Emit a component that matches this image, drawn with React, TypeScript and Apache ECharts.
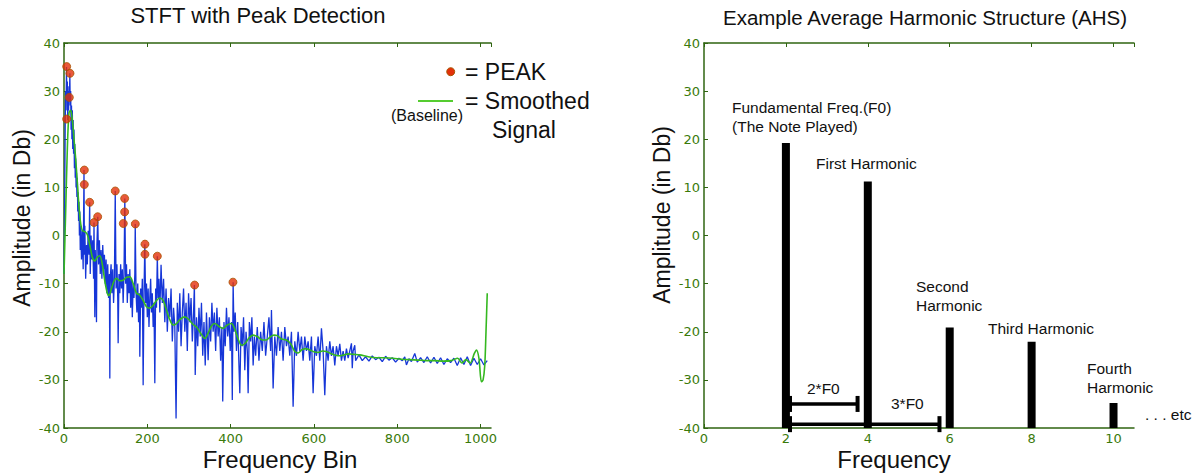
import React, { useEffect, useRef } from "react";
import * as echarts from "echarts";

// ---------- Left chart data ----------
const spectrum: [number, number][] = [
  [0, -8], [1, 0], [2, 12], [3, 24], [4, 30], [5, 26], [6, 35], [7, 28], [8, 32], [9, 24], [10, 30], [11, 26], [12, 31], [13, 28], [14, 33.7], [15, 27], [16, 30], [17, 22], [18, 27], [19, 20], [20, 26], [21, 18], [22, 24], [23, 17], [24, 22], [25, 14], [26, 19], [27, 12], [28, 16], [29, 10], [30, 13], [31, 8], [32, 12], [33, 5], [34, 9], [35, 3], [36, 7], [37, 0], [38, 5], [39, -3], [40, 2],
  [42, -5], [44, 1], [46, -7], [48, 13.6], [49, -4], [50, 2], [52, -9], [54, -2], [56, -6], [58, 1], [60, -4], [61.6, 6.9], [63, -8], [65, 0], [67, -5], [69, -1], [71, -9], [72, 2.7], [74, -17], [75, -3], [77, -10], [78, -18], [79, -2], [81, 3.9], [83, -6], [85, -1], [87, -8], [89, -3], [91, -9], [93, -2], [95, -7], [97, -4], [99, -10], [101, -5], [103, -12], [105, -6], [107, -13], [109, -8], [110, -29.7], [111, -9], [113, -6], [115, -12], [117, -7], [119, -14], [121, -9], [123, 9.25], [125, -11], [127, -6], [129, -13], [130, -22.4], [132, -8], [134, -12], [136, -6], [138, -11], [140, -7], [142, -14], [144, -8], [146, 7.7], [148, -10], [150, -6], [152, -14], [154, -8], [156, -12], [158, -7], [160, -15], [162, -9], [164, -17], [166, -10], [168, -13], [170, -8], [171, 2.4], [173, -12], [175, -16], [177, -10], [179, -18], [181, -12], [182, -25.2], [184, -11], [186, -15], [188, -9], [190, -31.1], [192, -12], [194, -1.8], [196, -14], [198, -10], [200, -17], [202, -11], [204, -19], [206, -13], [208, -9], [210, -16], [212, -12], [214, -19], [216, -14], [218, -30.7], [220, -11], [222, -15], [224, -4.3], [226, -13], [228, -9], [230, -16],
  [233, -6.1], [236, -14], [239, -9], [242, -18], [245, -11], [248, -20], [251, -13], [254, -17], [257, -11], [260, -22], [263, -15], [266, -19], [269, -38], [272, -14], [275, -20], [278, -12], [281, -23], [284, -16], [287, -11], [290, -20], [293, -14], [296, -24], [299, -12], [302, -18], [305, -13], [308, -22], [311, -16], [313, -10.3], [315, -29], [318, -17], [321, -23], [324, -15], [327, -21], [330, -14], [333, -25], [336, -18], [339, -27], [342, -16], [346, -25.9], [349, -17], [352, -22], [355, -14], [358, -20], [361, -16], [364, -24], [367, -15], [370, -21], [373, -17], [376, -26], [379, -19], [381, -34.5], [384, -18], [387, -23], [390, -15], [393, -21], [396, -17], [399, -24], [402, -18], [404, -34.2], [406, -9.7], [408, -20], [411, -16], [414, -24], [417, -18], [420, -27], [422, -32.8], [425, -19], [428, -23], [431, -17], [434, -28], [437, -20], [440, -24], [442, -32.8], [445, -18], [448, -22], [451, -17], [454, -27], [457, -21], [460, -25],
  [464, -19], [468, -26], [472, -20], [476, -24], [480, -18], [484, -25], [488, -21], [492, -17], [496, -24], [498, -15.5], [502, -31.8], [506, -21], [510, -25], [514, -19], [518, -24], [522, -20], [526, -26], [530, -19], [534, -23], [538, -21], [542, -25], [546, -20], [550, -35.6], [554, -22], [558, -25], [562, -20], [566, -24], [570, -21], [574, -26], [578, -21], [582, -24], [586, -22], [590, -26], [594, -21], [598, -32.8], [602, -23], [606, -25], [610, -21], [614, -26], [618, -19.3], [622, -24], [626, -33.2], [630, -23], [634, -26], [638, -22], [642, -25], [646, -23], [650, -27], [654, -23], [658, -25], [662, -22.5], [666, -26], [670, -24], [674, -26], [678, -23.5], [682, -25.5], [686, -24], [690, -22.4], [692, -27.6], [694, -24], [698, -22.8], [700, -26],
  [708, -24.8], [716, -26], [724, -25.2], [732, -26.1], [740, -25], [748, -25.8], [756, -25.3], [764, -26.2], [772, -25.1], [780, -25.9], [788, -25.4], [796, -26.3], [804, -25.5], [812, -26], [818, -25.2], [822, -26.9], [828, -25.6], [834, -26.2], [842, -24.5], [848, -26.3], [856, -25.4], [864, -26.4], [872, -25.2], [880, -26.5], [888, -25.3], [896, -26.6], [904, -25.4], [912, -26.8], [920, -25.6], [928, -26.4], [936, -25.5], [944, -27], [952, -25.4], [960, -26.8], [968, -25.2], [976, -27], [984, -25.5], [992, -26.8], [1000, -25.6], [1008, -26.9], [1016, -26],
];

const baseline: [number, number][] = [
  [0, -8], [4, 5], [8, 18], [12, 25.5], [16, 26], [20, 24], [24, 20], [28, 16], [32, 11], [36, 6], [40, 2.5], [44, 1], [50, 0.8], [56, 0.2], [62, -2], [68, -4.5], [74, -5.3], [80, -4.5], [86, -4.2], [92, -6], [98, -9.5], [104, -12], [108, -12.5], [114, -11], [120, -9.5], [126, -8.9], [134, -9.4], [142, -9.3], [150, -8.7], [158, -8.6], [166, -10], [174, -12], [182, -12.4], [190, -13.5], [198, -14.8], [206, -15.1], [214, -14.5], [222, -13.5], [230, -13], [238, -13.5], [246, -15.5], [254, -17.5], [262, -18.6], [270, -18.3], [280, -17.3], [290, -16.9], [300, -17.5], [310, -18.5], [318, -19], [328, -20.3], [338, -21.4], [346, -20.3], [354, -18.8], [362, -18.3], [372, -18.9], [382, -19.3], [392, -18.6], [402, -18.3], [410, -19.5], [418, -21.5], [426, -22.8], [434, -22.5], [444, -21.3], [454, -20.7], [464, -21], [476, -21.7], [486, -21.7], [496, -21], [504, -20.7], [512, -20.8], [522, -21.5], [534, -21.7], [544, -22.5], [554, -24.1], [562, -24.4], [570, -23.8], [580, -23.5], [590, -23.8], [598, -24.1], [610, -24.3], [620, -24], [630, -24.1], [640, -24.5], [652, -24.9], [662, -25], [672, -24.8], [684, -24.6], [696, -24.7], [710, -24.8], [730, -25.2], [750, -25.4], [770, -25.4], [790, -25.5], [810, -25.7], [830, -25.8], [850, -25.9], [870, -26], [890, -26], [910, -26.1], [930, -26], [945, -25.5], [955, -26.5], [965, -25.8], [975, -26.5], [985, -24.5], [990, -23.8], [996, -25.5], [1002, -30.4], [1006, -30], [1010, -27], [1013, -20], [1016, -12],
];

const peaks: [number, number][] = [
  [6.4, 35.1], [14.4, 33.7], [12.8, 28.7], [6.4, 24.2], [48.8, 13.6], [48.8, 10.6], [61.6, 6.9], [80.8, 3.9], [72, 2.7], [123, 9.25], [145.6, 7.7], [145.6, 4.9], [142.4, 2.5], [171.2, 2.4], [194.4, -1.8], [194.4, -3.9], [224, -4.3], [313.6, -10.3], [405.6, -9.7],
];

// ---------- Right chart data ----------
const harmonicFreqs = [2, 4, 6, 8, 10];
const harmonicDb = [19.2, 11.2, -19.1, -22.1, -34.8];
const spans: [number, number, number][] = [
  [2.1, 3.75, -35],
  [2.1, 5.75, -39.2],
];

const Y_MIN = -40;
const Y_MAX = 40;

const GREEN_AXIS = "#2f6410";
const GREEN_LABEL = "#3a7a0a";
const SANS = "Liberation Sans, Arial, sans-serif";
const PEAK_FILL = "#e3300a";
const PEAK_EDGE = "#a85400";

function bottomAxis(grid: number, max: number, interval: number) {
  return {
    type: "value",
    gridIndex: grid,
    min: 0,
    max,
    interval,
    position: "bottom",
    axisLine: { show: true, onZero: false, lineStyle: { color: GREEN_AXIS, width: 1.5 } },
    axisTick: { show: true, inside: true, length: 4, lineStyle: { color: GREEN_AXIS } },
    axisLabel: {
      show: true,
      color: GREEN_LABEL,
      fontFamily: "DejaVu Sans",
      fontSize: 13,
      margin: 4,
      showMaxLabel: false,
      formatter: (v: number) => (Math.abs(v / interval - Math.round(v / interval)) < 1e-6 ? String(v) : ""),
    },
    splitLine: { show: false },
  };
}

function topAxis(grid: number, max: number, interval: number) {
  return {
    type: "value",
    gridIndex: grid,
    min: 0,
    max,
    interval,
    position: "top",
    axisLine: { show: true, onZero: false, lineStyle: { color: GREEN_AXIS, width: 1.5 } },
    axisTick: { show: true, inside: true, length: 4, lineStyle: { color: GREEN_AXIS } },
    axisLabel: { show: false },
    splitLine: { show: false },
  };
}

function leftAxis(grid: number) {
  return {
    type: "value",
    gridIndex: grid,
    min: Y_MIN,
    max: Y_MAX,
    interval: 10,
    axisLine: { show: true, onZero: false, lineStyle: { color: GREEN_AXIS, width: 1.5 } },
    axisTick: { show: true, inside: true, length: 4, lineStyle: { color: GREEN_AXIS } },
    axisLabel: { color: GREEN_LABEL, fontFamily: "DejaVu Sans", fontSize: 13, margin: 4 },
    splitLine: { show: false },
  };
}

function txt(text: string, x: number, y: number, size: number, align = "left", rotation = 0) {
  return {
    type: "text",
    x,
    y,
    rotation,
    style: {
      text,
      fill: "#111",
      font: `${size}px ${SANS}`,
      textAlign: align,
      textVerticalAlign: "middle",
      verticalAlign: "middle",
    },
  };
}

export default function App() {
  const ref = useRef<HTMLDivElement>(null);

  useEffect(() => {
    if (!ref.current) return;
    const chart = echarts.init(ref.current, null, { renderer: "svg" });

    const option: any = {
      animation: false,
      backgroundColor: "#ffffff",
      grid: [
        { left: 64, top: 43, width: 427, height: 385 },
        { left: 704, top: 43, width: 430, height: 385 },
      ],
      xAxis: [
        bottomAxis(0, 1025, 200),
        topAxis(0, 1025, 200),
        bottomAxis(1, 10.5, 2),
        topAxis(1, 10.5, 2),
      ],
      yAxis: [leftAxis(0), leftAxis(1)],
      series: [
        {
          type: "line",
          xAxisIndex: 0,
          yAxisIndex: 0,
          data: spectrum,
          symbol: "none",
          lineStyle: { color: "#1636d8", width: 1.3 },
          z: 2,
        },
        {
          type: "line",
          xAxisIndex: 0,
          yAxisIndex: 0,
          data: baseline,
          symbol: "none",
          smooth: 0.3,
          lineStyle: { color: "#35b820", width: 1.6 },
          z: 3,
        },
        {
          type: "scatter",
          xAxisIndex: 0,
          yAxisIndex: 0,
          data: peaks,
          symbolSize: 8,
          itemStyle: { color: PEAK_FILL, borderColor: PEAK_EDGE, borderWidth: 1 },
          z: 4,
        },
        {
          type: "custom",
          xAxisIndex: 2,
          yAxisIndex: 1,
          data: harmonicFreqs.map((f, i) => [f, harmonicDb[i]]),
          encode: { x: 0, y: 1 },
          renderItem: (params: any, api: any) => {
            const top = api.coord([api.value(0), api.value(1)]);
            const bot = api.coord([api.value(0), Y_MIN]);
            return {
              type: "rect",
              shape: { x: top[0] - 4, y: top[1], width: 8, height: bot[1] - top[1] },
              style: { fill: "#000" },
            };
          },
          z: 3,
        },
        {
          type: "custom",
          xAxisIndex: 2,
          yAxisIndex: 1,
          data: spans,
          encode: { x: [0, 1], y: 2 },
          renderItem: (params: any, api: any) => {
            const a = api.coord([api.value(0), api.value(2)]);
            const b = api.coord([api.value(1), api.value(2)]);
            const st = { stroke: "#000", lineWidth: 3.5 };
            return {
              type: "group",
              children: [
                { type: "line", shape: { x1: a[0], y1: a[1], x2: b[0], y2: b[1] }, style: st },
                { type: "line", shape: { x1: a[0], y1: a[1] - 8, x2: a[0], y2: a[1] + 8 }, style: { stroke: "#000", lineWidth: 4 } },
                { type: "line", shape: { x1: b[0], y1: b[1] - 8, x2: b[0], y2: b[1] + 8 }, style: { stroke: "#000", lineWidth: 4 } },
              ],
            };
          },
          z: 4,
        },
      ],
      graphic: [
        txt("STFT with Peak Detection", 258, 15, 22, "center"),
        txt("Example Average Harmonic Structure (AHS)", 925, 17, 20.5, "center"),
        txt("Amplitude (in Db)", 22, 218, 23, "center", Math.PI / 2),
        txt("Amplitude (in Db)", 662, 215, 23, "center", Math.PI / 2),
        txt("Frequency Bin", 280, 459, 24, "center"),
        txt("Frequency", 894, 459, 24, "center"),
        // legend
        { type: "circle", shape: { cx: 450.7, cy: 71.7, r: 4 }, style: { fill: PEAK_FILL, stroke: PEAK_EDGE, lineWidth: 1 } },
        txt("= PEAK", 465, 72, 23),
        { type: "line", shape: { x1: 418, y1: 101, x2: 453, y2: 101 }, style: { stroke: "#55cc30", lineWidth: 2 } },
        txt("= Smoothed", 465, 101, 23),
        txt("Signal", 492, 130, 23),
        txt("(Baseline)", 391, 115, 16),
        // annotations on right chart
        txt("Fundamental Freq.(F0)", 732, 107, 15.5),
        txt("(The Note Played)", 732, 126, 15.5),
        txt("First Harmonic", 816, 163, 15.5),
        txt("Second", 916, 286, 15.5),
        txt("Harmonic", 916, 305, 15.5),
        txt("Third Harmonic", 988, 328, 15.5),
        txt("Fourth", 1087, 368, 15.5),
        txt("Harmonic", 1087, 387, 15.5),
        txt(". . . etc", 1145, 414, 15.5),
        txt("2*F0", 807, 388, 15.5),
        txt("3*F0", 891, 403, 15.5),
      ],
    };

    chart.setOption(option);
    return () => chart.dispose();
  }, []);

  return (
    <div
      ref={ref}
      style={{ position: "fixed", left: 0, top: 0, width: 1194, height: 476, background: "#fff" }}
    />
  );
}
